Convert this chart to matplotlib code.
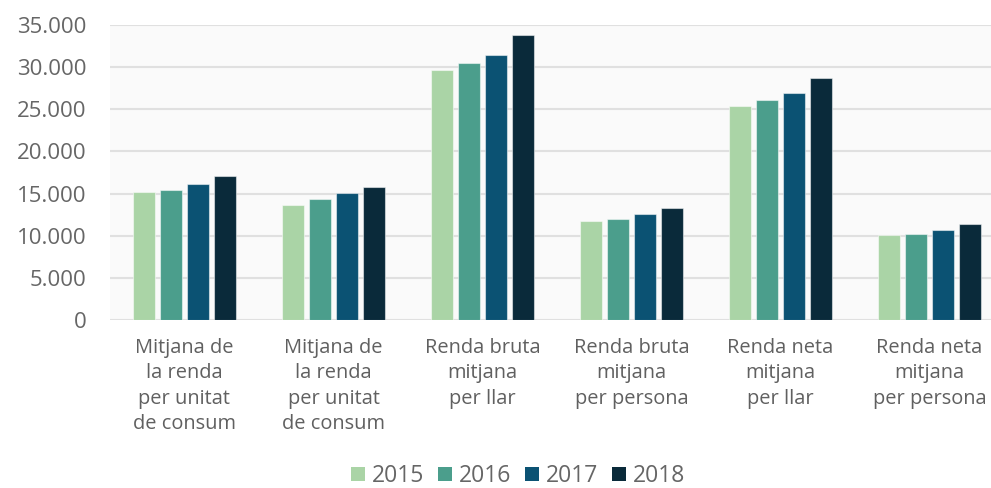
import matplotlib
matplotlib.use("Agg")
import matplotlib.pyplot as plt
from matplotlib.ticker import FuncFormatter
import numpy as np

categories = [
    "Mitjana de\nla renda\nper unitat\nde consum",
    "Mitjana de\nla renda\nper unitat\nde consum",
    "Renda bruta\nmitjana\nper llar",
    "Renda bruta\nmitjana\nper persona",
    "Renda neta\nmitjana\nper llar",
    "Renda neta\nmitjana\nper persona",
]
years = ["2015", "2016", "2017", "2018"]
v2015 = [15150, 13640, 29660, 11740, 25420, 10120]
v2016 = [15420, 14350, 30450, 11980, 26060, 10240]
v2017 = [16100, 15030, 31430, 12570, 26890, 10680]
v2018 = [17080, 15740, 33800, 13290, 28740, 11350]
series = [v2015, v2016, v2017, v2018]
colors = ["#aad4a6", "#4b9e8c", "#0b5273", "#0a2a3a"]
yticks = [0, 5000, 10000, 15000, 20000, 25000, 30000, 35000]

plt.rcParams['font.family'] = ['Open Sans', 'DejaVu Sans']

fig = plt.figure(figsize=(9.91, 4.88), dpi=100)
fig.patch.set_facecolor("white")
ax = fig.add_axes([110/991, 168/488, 894/991, 295/488])
ax.set_facecolor("#fafafa")

x = np.arange(len(categories))
slot = 27/149
bw = 21.5/149
for i, (vals, c, yr) in enumerate(zip(series, colors, years)):
    ax.bar(x + (i - 1.5)*slot, vals, width=bw, color=c, label=yr,
           edgecolor=(1, 1, 1, 0.5), linewidth=0.8, zorder=3)

ax.set_xlim(-0.5, len(categories) - 0.5)
ax.set_ylim(0, 35000)
ax.set_yticks(yticks)
ax.yaxis.set_major_formatter(FuncFormatter(lambda v, p: f"{int(v):,}".replace(",", ".")))
ax.set_xticks(x)
ax.set_xticklabels(categories, fontsize=14.4, color="#606060", linespacing=1.36)
ax.tick_params(axis="x", length=0, pad=13)
ax.tick_params(axis="y", length=0, pad=17, labelsize=16, labelcolor="#666666")
ax.grid(axis="y", color="#e0e0e0", linewidth=1.5, zorder=0)
for s in ax.spines.values():
    s.set_visible(False)

leg = fig.legend(loc="center", bbox_to_anchor=(518/991, 1 - 476/488), ncol=4,
                 frameon=False, fontsize=16.5, handlelength=0.62, handleheight=0.62,
                 handletextpad=0.3, columnspacing=0.6, labelcolor="#666666",
                 borderpad=0.1)
for h in leg.legend_handles:
    h.set_edgecolor("none")

fig.savefig("out.png", dpi=100, facecolor="white")
